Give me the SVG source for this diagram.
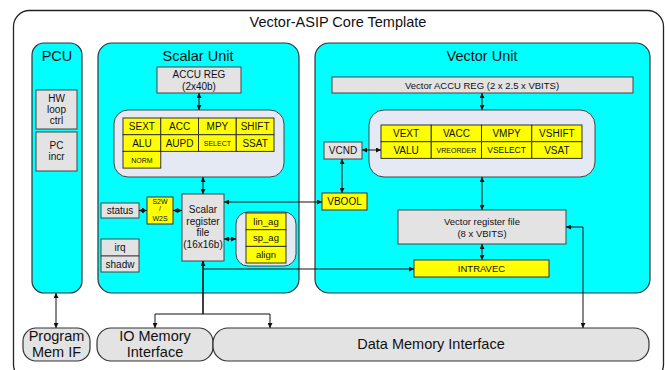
<svg xmlns="http://www.w3.org/2000/svg" width="665" height="370" viewBox="0 0 665 370">
  <defs>
    <marker id="ah" viewBox="0 0 8 8" refX="8" refY="4" markerWidth="5" markerHeight="5" markerUnits="userSpaceOnUse" orient="auto-start-reverse">
      <path d="M0,0 L8,4 L0,8 z" fill="#111"/>
    </marker>
    <style>
      text { font-family: "Liberation Sans", Arial, sans-serif; fill: #111; text-anchor: middle; dominant-baseline: central; }
      .big { font-size: 14.5px; }
      .sm { font-size: 10px; }
      .xs { font-size: 9.5px; }
      .tiny { font-size: 7px; }
      .unit { fill: #00FFFF; stroke: #333; stroke-width: 1.2; }
      .box { fill: #E3E3E3; stroke: #444; stroke-width: 1; }
      .pool { fill: #E4E9F3; stroke: #444; stroke-width: 1; }
      .fu { fill: #FFFF00; stroke: #333; stroke-width: 1; }
      .mem { fill: #E3E3E3; stroke: #333; stroke-width: 1.2; }
      .wire { fill: none; stroke: #111; stroke-width: 1; }
      .bus { fill: none; stroke: #111; stroke-width: 1.6; }
      .arr2 { marker-start: url(#ah); marker-end: url(#ah); }
      .arr1 { marker-end: url(#ah); }
    </style>
  </defs>

  <!-- core frame -->
  <g id="core">
    <rect x="13.5" y="10.5" width="650" height="370" rx="16" fill="#fff" stroke="#222" stroke-width="1.3"/>
    <text class="big" x="338" y="22">Vector-ASIP Core Template</text>
  </g>

  <!-- program control unit -->
  <g id="pcu">
    <rect class="unit" x="32" y="43" width="50" height="250" rx="12"/>
    <text class="big" x="57" y="56">PCU</text>
  </g>
  <g id="hwloop">
    <rect class="box" x="36" y="90" width="41" height="39"/>
    <text class="sm" x="56.5" y="98">HW</text>
    <text class="sm" x="56.5" y="109">loop</text>
    <text class="sm" x="56.5" y="120">ctrl</text>
  </g>
  <g id="pcincr">
    <rect class="box" x="36" y="132" width="41" height="39"/>
    <text class="sm" x="56.5" y="145">PC</text>
    <text class="sm" x="56.5" y="156">incr</text>
  </g>

  <!-- scalar unit -->
  <g id="scalar-unit">
    <rect class="unit" x="98" y="43" width="201" height="250" rx="14"/>
    <text class="big" x="198" y="56">Scalar Unit</text>
  </g>
  <g id="accu-reg">
    <rect class="box" x="157" y="67" width="84" height="26"/>
    <text class="sm" x="199" y="74">ACCU REG</text>
    <text class="sm" x="199" y="86">(2x40b)</text>
  </g>
  <g id="scalar-fus">
    <rect class="pool" x="114" y="110" width="170" height="67" rx="14"/>
    <rect class="fu" x="123" y="118" width="37.75" height="16.7"/>
    <rect class="fu" x="160.75" y="118" width="37.75" height="16.7"/>
    <rect class="fu" x="198.5" y="118" width="37.75" height="16.7"/>
    <rect class="fu" x="236.25" y="118" width="37.75" height="16.7"/>
    <rect class="fu" x="123" y="134.7" width="37.75" height="16.7"/>
    <rect class="fu" x="160.75" y="134.7" width="37.75" height="16.7"/>
    <rect class="fu" x="198.5" y="134.7" width="37.75" height="16.7"/>
    <rect class="fu" x="236.25" y="134.7" width="37.75" height="16.7"/>
    <rect class="fu" x="123" y="151.4" width="37.75" height="16.7"/>
    <text class="sm" x="141.9" y="126.6">SEXT</text>
    <text class="sm" x="179.6" y="126.6">ACC</text>
    <text class="sm" x="217.4" y="126.6">MPY</text>
    <text class="sm" x="255.1" y="126.6">SHIFT</text>
    <text class="sm" x="141.9" y="143.3">ALU</text>
    <text class="sm" x="179.6" y="143.3">AUPD</text>
    <text class="tiny" x="217.4" y="143.3">SELECT</text>
    <text class="sm" x="255.1" y="143.3">SSAT</text>
    <text class="tiny" x="141.9" y="160">NORM</text>
  </g>
  <g id="status">
    <rect class="box" x="101" y="203" width="38" height="15"/>
    <text class="sm" x="120" y="210.5">status</text>
  </g>
  <g id="s2w">
    <rect class="fu" x="147" y="197" width="26" height="27"/>
    <text class="tiny" x="160" y="201.5">S2W</text>
    <text class="tiny" x="160" y="208.5">/</text>
    <text class="tiny" x="160" y="218.5">W2S</text>
  </g>
  <g id="irq">
    <rect class="box" x="101" y="239" width="38" height="17"/>
    <text class="sm" x="120" y="247.5">irq</text>
  </g>
  <g id="shadw">
    <rect class="box" x="101" y="256" width="38" height="16"/>
    <text class="sm" x="120" y="264">shadw</text>
  </g>
  <g id="scalar-regfile">
    <rect class="box" x="182" y="194" width="42" height="67"/>
    <text class="sm" x="203" y="209">Scalar</text>
    <text class="sm" x="203" y="221">register</text>
    <text class="sm" x="203" y="232.5">file</text>
    <text class="sm" x="203" y="244">(16x16b)</text>
  </g>
  <g id="agus">
    <rect class="pool" x="236" y="212" width="60" height="54" rx="12"/>
    <rect class="fu" x="246" y="213" width="40" height="16.7"/>
    <rect class="fu" x="246" y="229.7" width="40" height="16.7"/>
    <rect class="fu" x="246" y="246.4" width="40" height="16.6"/>
    <text class="xs" x="266" y="221">lin_ag</text>
    <text class="xs" x="266" y="237.7">sp_ag</text>
    <text class="xs" x="266" y="254.4">align</text>
  </g>

  <!-- vector unit -->
  <g id="vector-unit">
    <rect class="unit" x="315" y="43" width="335" height="250" rx="14"/>
    <text class="big" x="482" y="56">Vector Unit</text>
  </g>
  <g id="vaccu-reg">
    <rect class="box" x="332" y="77" width="301" height="16"/>
    <text class="xs" x="482" y="85">Vector ACCU REG (2 x 2.5 x VBITS)</text>
  </g>
  <g id="vector-fus">
    <rect class="pool" x="369" y="110" width="226" height="67" rx="15"/>
    <rect class="fu" x="381" y="125" width="50.25" height="16.7"/>
    <rect class="fu" x="431.25" y="125" width="50.25" height="16.7"/>
    <rect class="fu" x="481.5" y="125" width="50.25" height="16.7"/>
    <rect class="fu" x="531.75" y="125" width="50.25" height="16.7"/>
    <rect class="fu" x="381" y="141.7" width="50.25" height="16.7"/>
    <rect class="fu" x="431.25" y="141.7" width="50.25" height="16.7"/>
    <rect class="fu" x="481.5" y="141.7" width="50.25" height="16.7"/>
    <rect class="fu" x="531.75" y="141.7" width="50.25" height="16.7"/>
    <text class="sm" x="406.1" y="133.4">VEXT</text>
    <text class="sm" x="456.4" y="133.4">VACC</text>
    <text class="sm" x="506.6" y="133.4">VMPY</text>
    <text class="sm" x="556.9" y="133.4">VSHIFT</text>
    <text class="sm" x="406.1" y="150.1">VALU</text>
    <text class="tiny" x="456.4" y="150.1">VREORDER</text>
    <text class="xs" x="506.6" y="150.1" style="font-size:8.5px">VSELECT</text>
    <text class="sm" x="556.9" y="150.1">VSAT</text>
  </g>
  <g id="vcnd">
    <rect class="box" x="324" y="142" width="38" height="17"/>
    <text class="sm" x="343" y="150.5">VCND</text>
  </g>
  <g id="vbool">
    <rect class="fu" x="322" y="193" width="45" height="17"/>
    <text class="sm" x="344.5" y="201.5">VBOOL</text>
  </g>
  <g id="vector-regfile">
    <rect class="box" x="398" y="210" width="168" height="34"/>
    <text class="xs" x="482" y="221">Vector register file</text>
    <text class="xs" x="482" y="233">(8 x VBITS)</text>
  </g>
  <g id="intravec">
    <rect class="fu" x="414" y="260" width="135" height="17"/>
    <text class="xs" x="481.5" y="268.5">INTRAVEC</text>
  </g>

  <!-- memory interfaces -->
  <g id="prog-mem">
    <rect class="mem" x="23" y="328" width="67" height="33" rx="13"/>
    <text class="big" x="56.5" y="336">Program</text>
    <text class="big" x="56.5" y="352">Mem IF</text>
  </g>
  <g id="io-mem">
    <rect class="mem" x="97" y="328" width="116" height="33" rx="14"/>
    <text class="big" x="155" y="336">IO Memory</text>
    <text class="big" x="155" y="352">Interface</text>
  </g>
  <g id="data-mem">
    <rect class="mem" x="213" y="328" width="436" height="33" rx="15"/>
    <text class="big" x="431" y="344">Data Memory Interface</text>
  </g>

  <!-- connectors -->
  <g id="connectors">
    <line class="wire arr2" x1="199" y1="93" x2="199" y2="110"/>
    <line class="wire arr2" x1="203" y1="177" x2="203" y2="194"/>
    <line class="wire arr2" x1="139" y1="210.5" x2="147" y2="210.5"/>
    <line class="wire arr2" x1="173" y1="210.5" x2="182" y2="210.5"/>
    <line class="wire arr2" x1="224" y1="239" x2="236" y2="239"/>
    <line class="wire arr2" x1="224" y1="202" x2="322" y2="202"/>
    <line class="wire arr2" x1="342" y1="159" x2="342" y2="193"/>
    <line class="wire arr2" x1="362" y1="150" x2="381" y2="150"/>
    <line class="wire arr2" x1="482" y1="93" x2="482" y2="110"/>
    <line class="wire arr2" x1="482" y1="177" x2="482" y2="210"/>
    <line class="wire arr2" x1="482" y1="244" x2="482" y2="260"/>
    <polyline class="wire arr2" points="566,227 583,227 583,328"/>
    <line class="wire arr2" x1="56" y1="293" x2="56" y2="328"/>
    <!-- data bus trunk from the scalar register file -->
    <line class="bus arr1" x1="203" y1="314" x2="203" y2="261"/>
    <polyline class="wire arr1" points="203,269 414,269"/>
    <polyline class="wire arr1" points="155,314 155,328"/>
    <polyline class="wire arr1" points="155,314 270,314 270,328"/>
  </g>
</svg>
